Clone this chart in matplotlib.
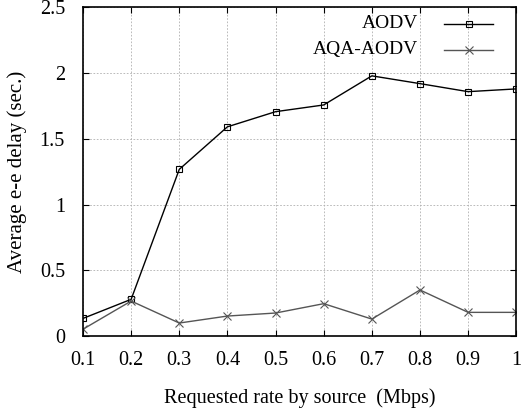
import matplotlib.pyplot as plt

plt.rcParams['font.family'] = 'serif'
plt.rcParams['font.serif'] = ['Liberation Serif']

rate = [0.1, 0.2, 0.3, 0.4, 0.5, 0.6, 0.7, 0.8, 0.9, 1.0]
aodv = [0.135, 0.28, 1.267, 1.59, 1.705, 1.756, 1.977, 1.918, 1.857, 1.878]
aqa_aodv = [0.053, 0.267, 0.10, 0.153, 0.176, 0.247, 0.13, 0.351, 0.181, 0.181]
labels = ['AODV', 'AQA-AODV']

fig = plt.figure(figsize=(5.22, 4.11), dpi=100)
ax = fig.add_axes([0.159, 0.182, 0.830, 0.801])

sq = dict(color='black', lw=1, marker='s', markersize=4.5,
          markerfacecolor='none', markeredgewidth=0.8)
cr = dict(color='#555555', lw=1, marker='x', markersize=6, markeredgewidth=0.8)

ax.plot(rate, aodv, **sq)
ax.plot(rate, aqa_aodv, **cr)

ax.set_xlim(0.1, 1.0)
ax.set_ylim(0, 2.5)
ax.set_xticks(rate)
ax.set_xticklabels(['0.1', '0.2', '0.3', '0.4', '0.5', '0.6', '0.7', '0.8', '0.9', '1'])
ax.set_yticks([0, 0.5, 1, 1.5, 2, 2.5])
ax.set_yticklabels(['0', '0.5', '1', '1.5', '2', '2.5'])
ax.tick_params(direction='in', top=True, right=True, labelsize=14.5, length=4)
ax.tick_params(axis='x', pad=11)
ax.tick_params(axis='y', pad=13)
ax.grid(True, color='#b0b0b0', ls=(0, (2, 2)), lw=0.6)
for s in ax.spines.values():
    s.set_linewidth(1.2)

ax.set_xlabel('Requested rate by source  (Mbps)', fontsize=14.5, labelpad=13)
ax.set_ylabel('Average e-e delay (sec.)', fontsize=15, labelpad=9)

# gnuplot style key: right-justified text, sample line on the right
for lab, sty, yy in zip(labels, [sq, cr], [0.949, 0.870]):
    ax.text(0.774, yy, lab, transform=ax.transAxes, ha='right', va='center',
            fontsize=14)
    ax.plot([0.834, 0.8905, 0.947], [yy, yy, yy], transform=ax.transAxes,
            markevery=[1], clip_on=False, **sty)

fig.savefig('out.png', dpi=100)
